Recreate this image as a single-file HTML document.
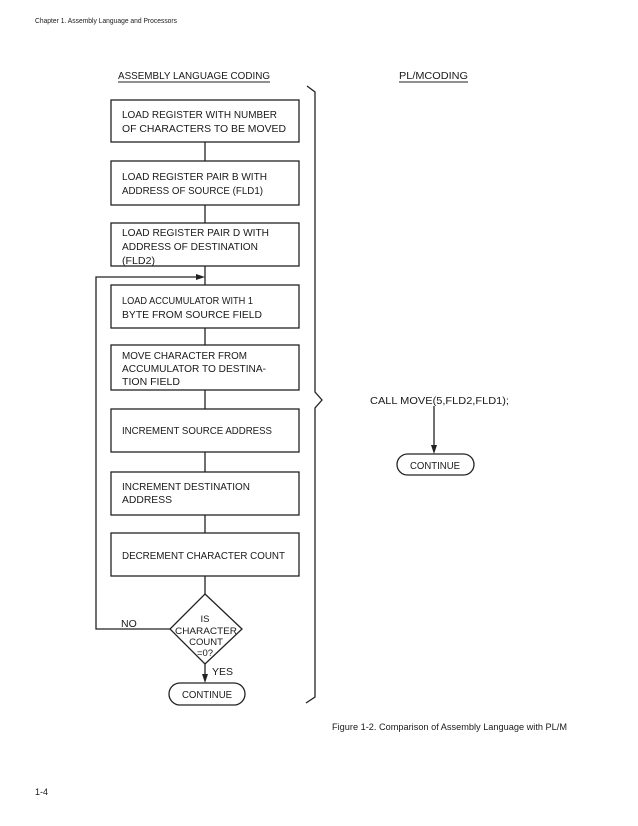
<!DOCTYPE html>
<html><head><meta charset="utf-8"><style>
html,body{margin:0;padding:0;background:#fff;}
svg{display:block;}
text{font-family:"Liberation Sans",sans-serif;fill:#1a1a1a;}
.b{font-size:10.5px;}
.d{font-size:9.5px;}
</style></head><body>
<svg width="638" height="826" viewBox="0 0 638 826" xmlns="http://www.w3.org/2000/svg">
<g stroke="#222" fill="none" stroke-width="1.3">
<rect x="111" y="100" width="188" height="42"/>
<rect x="111" y="161" width="188" height="44"/>
<rect x="111" y="223" width="188" height="43"/>
<rect x="111" y="285" width="188" height="43"/>
<rect x="111" y="345" width="188" height="45"/>
<rect x="111" y="409" width="188" height="43"/>
<rect x="111" y="472" width="188" height="43"/>
<rect x="111" y="533" width="188" height="43"/>
<path d="M205 142V161M205 205V223M205 266V285M205 328V345M205 390V409M205 452V472M205 515V533M205 576V594"/>
<path d="M205 594L242 629L205 664L170 629Z"/>
<path d="M170 629H96V277H198"/>
<path d="M205 664V680"/>
<rect x="169" y="683" width="76" height="22" rx="11"/>
<path d="M307 86L315 92V392L322 400L315 408V697L306 703"/>
<path d="M434 406V448"/>
<rect x="397" y="454" width="77" height="21" rx="10.5"/>
<path d="M118 82H270M399 82H468" stroke-width="1"/>
</g>
<g fill="#222">
<path d="M205 277L196 274V280Z"/>
<path d="M205 683L202 674H208Z"/>
<path d="M434 454L431 445H437Z"/>
</g>
<g lengthAdjust="spacingAndGlyphs">
<text x="35" y="23" font-size="7.5" textLength="142" lengthAdjust="spacingAndGlyphs">Chapter 1.  Assembly Language and Processors</text>
<text x="118" y="79" class="b" textLength="152" lengthAdjust="spacingAndGlyphs">ASSEMBLY LANGUAGE CODING</text>
<text x="399" y="79" class="b" textLength="69" lengthAdjust="spacingAndGlyphs">PL/MCODING</text>
<text class="b" x="122" y="118" textLength="155" lengthAdjust="spacingAndGlyphs">LOAD REGISTER WITH NUMBER</text>
<text class="b" x="122" y="132" textLength="164" lengthAdjust="spacingAndGlyphs">OF CHARACTERS TO BE MOVED</text>
<text class="b" x="122" y="180" textLength="145" lengthAdjust="spacingAndGlyphs">LOAD REGISTER PAIR B WITH</text>
<text class="b" x="122" y="194" textLength="141" lengthAdjust="spacingAndGlyphs">ADDRESS OF SOURCE (FLD1)</text>
<text class="b" x="122" y="236" textLength="147" lengthAdjust="spacingAndGlyphs">LOAD REGISTER PAIR D WITH</text>
<text class="b" x="122" y="250" textLength="136" lengthAdjust="spacingAndGlyphs">ADDRESS OF DESTINATION</text>
<text class="b" x="122" y="264" textLength="33" lengthAdjust="spacingAndGlyphs">(FLD2)</text>
<text class="b" x="122" y="304" textLength="131" lengthAdjust="spacingAndGlyphs">LOAD ACCUMULATOR WITH 1</text>
<text class="b" x="122" y="318" textLength="140" lengthAdjust="spacingAndGlyphs">BYTE FROM SOURCE FIELD</text>
<text class="b" x="122" y="359" textLength="125" lengthAdjust="spacingAndGlyphs">MOVE CHARACTER FROM</text>
<text class="b" x="122" y="372" textLength="144" lengthAdjust="spacingAndGlyphs">ACCUMULATOR TO DESTINA-</text>
<text class="b" x="122" y="385" textLength="58" lengthAdjust="spacingAndGlyphs">TION FIELD</text>
<text class="b" x="122" y="434" textLength="150" lengthAdjust="spacingAndGlyphs">INCREMENT SOURCE ADDRESS</text>
<text class="b" x="122" y="490" textLength="128" lengthAdjust="spacingAndGlyphs">INCREMENT DESTINATION</text>
<text class="b" x="122" y="503" textLength="50" lengthAdjust="spacingAndGlyphs">ADDRESS</text>
<text class="b" x="122" y="559" textLength="163" lengthAdjust="spacingAndGlyphs">DECREMENT CHARACTER COUNT</text>
<text class="d" x="205" y="622" text-anchor="middle">IS</text>
<text class="d" x="206" y="634" text-anchor="middle" textLength="62" lengthAdjust="spacingAndGlyphs">CHARACTER</text>
<text class="d" x="206" y="645" text-anchor="middle">COUNT</text>
<text class="d" x="205" y="656" text-anchor="middle">=0?</text>
<text class="b" x="121" y="627">NO</text>
<text class="b" x="212" y="675">YES</text>
<text class="b" x="207" y="698" text-anchor="middle" textLength="50" lengthAdjust="spacingAndGlyphs">CONTINUE</text>
<text class="b" x="370" y="404" textLength="139" lengthAdjust="spacingAndGlyphs">CALL MOVE(5,FLD2,FLD1);</text>
<text class="b" x="435" y="469" text-anchor="middle" textLength="50" lengthAdjust="spacingAndGlyphs">CONTINUE</text>
<text x="332" y="730" font-size="9" textLength="235" lengthAdjust="spacingAndGlyphs">Figure 1-2.  Comparison of Assembly Language with PL/M</text>
<text x="35" y="795" font-size="9">1-4</text>
</g>
</svg>
</body></html>
